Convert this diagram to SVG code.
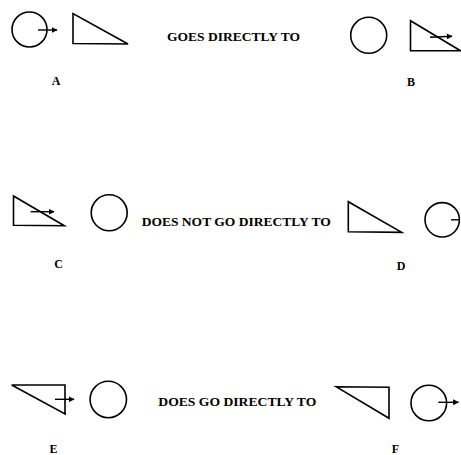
<svg xmlns="http://www.w3.org/2000/svg" width="461" height="455" viewBox="0 0 461 455">
<defs>
<style>
.s{fill:none;stroke:#000;stroke-width:1.6;stroke-linejoin:miter}
.ln{fill:none;stroke:#000;stroke-width:1.4}
.t{font-family:"Liberation Serif","DejaVu Serif",serif;font-weight:bold;font-size:12px;fill:#000}
.l{font-family:"Liberation Serif","DejaVu Serif",serif;font-weight:bold;font-size:12px;fill:#000;text-anchor:middle}
</style>
<marker id="ah" viewBox="0 0 10 10" refX="9" refY="5" markerWidth="6" markerHeight="6" markerUnits="userSpaceOnUse" orient="auto">
<path d="M0,0L10,5L0,10Z" fill="#000"/>
</marker>
</defs>
<rect width="461" height="455" fill="#fff"/>
<g id="A">
<circle class="s" cx="29.5" cy="29.5" r="17.5"/>
<line class="ln" x1="38" y1="30" x2="57" y2="30" marker-end="url(#ah)"/>
<polygon class="s" points="73,13.5 73,43.5 128,44"/>
<text class="l" x="56" y="85">A</text>
</g>
<g id="B">
<circle class="s" cx="368.7" cy="35.3" r="18"/>
<polygon class="s" points="410.5,20.7 410.5,50.7 460.5,50.7"/>
<line class="ln" x1="430" y1="37.3" x2="452" y2="36.2" marker-end="url(#ah)"/>
<text class="l" x="411" y="86">B</text>
</g>
<g id="C">
<polygon class="s" points="13.5,196 13.5,225.3 64.3,225.7"/>
<line class="ln" x1="30.7" y1="211.7" x2="54" y2="211.7" marker-end="url(#ah)"/>
<circle class="s" cx="109.2" cy="212.8" r="18"/>
<text class="l" x="58.5" y="268">C</text>
</g>
<g id="D">
<polygon class="s" points="348.3,201.7 348.3,231.7 401.7,232.3"/>
<circle class="s" cx="442.2" cy="219.8" r="17.2"/>
<line class="ln" x1="451" y1="219.8" x2="459.4" y2="219.8"/>
<text class="l" x="401" y="270">D</text>
</g>
<g id="E">
<polygon class="s" points="11.7,385 65,385 65,414"/>
<line class="ln" x1="65" y1="412" x2="65" y2="414.5"/>
<line class="ln" x1="55" y1="399.3" x2="74" y2="399.3" marker-end="url(#ah)"/>
<circle class="s" cx="108.3" cy="399.5" r="18.2"/>
<text class="l" x="53.5" y="453">E</text>
</g>
<g id="F">
<polygon class="s" points="336,386.7 389,387.3 389,418.3"/>
<circle class="s" cx="428.8" cy="403" r="17.8"/>
<line class="ln" x1="438.3" y1="402.3" x2="458.5" y2="402.3" marker-end="url(#ah)"/>
<text class="l" x="395.5" y="453">F</text>
</g>
<g id="connectors">
<text class="t" x="167" y="40.5" textLength="133" lengthAdjust="spacingAndGlyphs">GOES DIRECTLY TO</text>
<text class="t" x="141.7" y="225.5" textLength="189" lengthAdjust="spacingAndGlyphs">DOES NOT GO DIRECTLY TO</text>
<text class="t" x="158.3" y="405.5" textLength="158" lengthAdjust="spacingAndGlyphs">DOES GO DIRECTLY TO</text>
</g>
</svg>
